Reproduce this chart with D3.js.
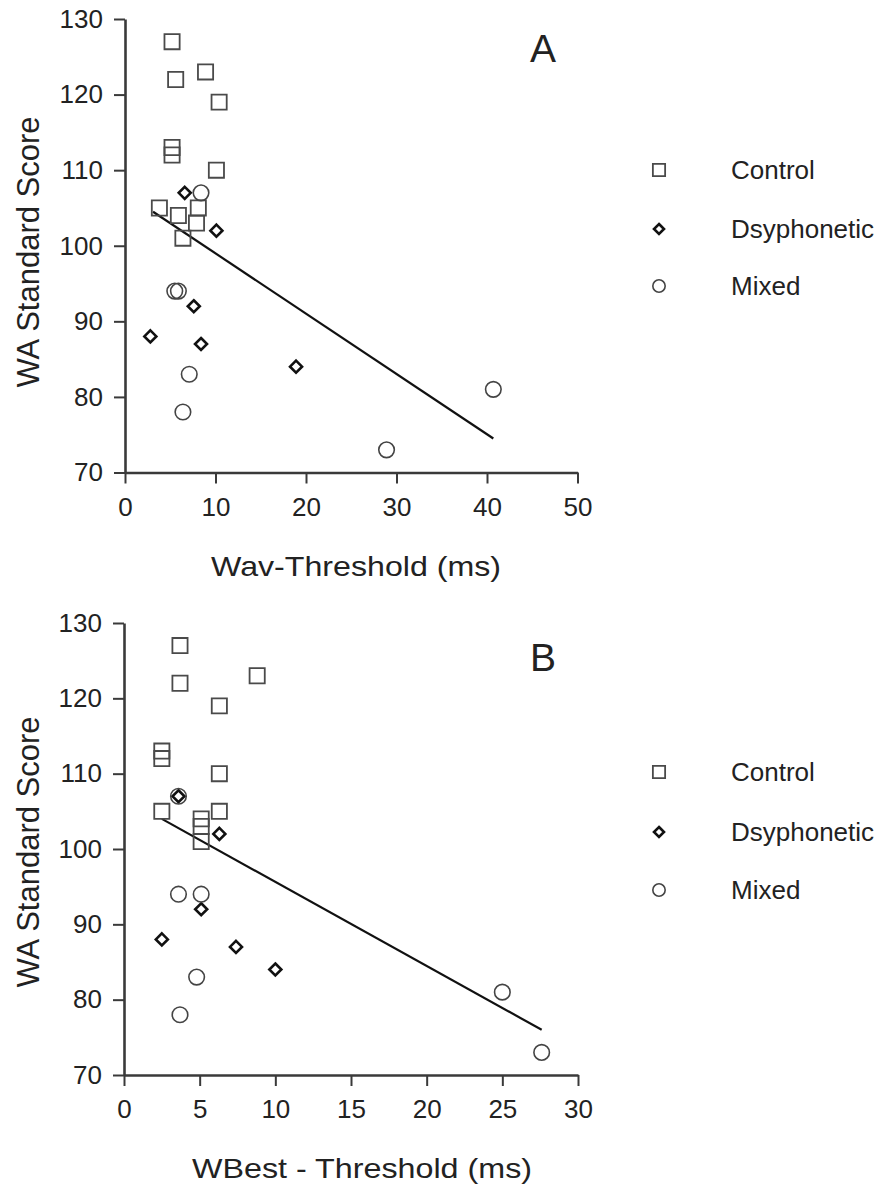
<!DOCTYPE html>
<html>
<head>
<meta charset="utf-8">
<script src="https://cdn.jsdelivr.net/npm/d3@7"></script>
<style>
  html, body { margin: 0; padding: 0; background: #fff; }
  svg { display: block; }
  text { font-family: "Liberation Sans", Arial, Helvetica, sans-serif; fill: #222; }
</style>
</head>
<body>
<svg id="chart" width="892" height="1187"></svg>
<script>
// ---------- Data ----------
const groups = ["Control", "Dsyphonetic", "Mixed"];

// Panel A: Wav-Threshold (ms) vs WA Standard Score
const aControlX = [5.2, 5.6, 8.9, 10.4, 5.2, 5.2, 10.1, 3.8, 5.9, 8.1, 7.9, 6.4];
const aControlY = [127, 122, 123, 119, 113, 112, 110, 105, 104, 105, 103, 101];
const aDysX = [6.6, 10.1, 7.6, 2.8, 8.4, 18.9];
const aDysY = [107, 102, 92, 88, 87, 84];
const aMixX = [8.4, 5.5, 5.9, 7.1, 6.4, 40.7, 28.9];
const aMixY = [107, 94, 94, 83, 78, 81, 73];
const aLineX = [3.1, 40.7];
const aLineY = [104.5, 74.5];
const aXTicks = [0, 10, 20, 30, 40, 50];

// Panel B: WBest - Threshold (ms) vs WA Standard Score
const bControlX = [3.7, 3.7, 8.8, 6.3, 2.5, 2.5, 6.3, 2.5, 6.3, 5.1, 5.1, 5.1];
const bControlY = [127, 122, 123, 119, 113, 112, 110, 105, 105, 104, 103, 101];
const bDysX = [3.6, 6.3, 5.1, 2.5, 7.4, 10.0];
const bDysY = [107, 102, 92, 88, 87, 84];
const bMixX = [3.6, 3.6, 5.1, 4.8, 3.7, 25.0, 27.6];
const bMixY = [107, 94, 94, 83, 78, 81, 73];
const bLineX = [2.5, 27.6];
const bLineY = [104, 76];
const bXTicks = [0, 5, 10, 15, 20, 25, 30];

const yTicks = [70, 80, 90, 100, 110, 120, 130];

// ---------- Drawing ----------
const svg = d3.select("#chart");
const AXIS_COLOR = "#3a3a3a";

// square rotated 45 degrees (equal width and height)
const symbolRhombus = {
  draw(ctx, size) {
    const r = Math.sqrt(size / 2);
    ctx.moveTo(0, -r); ctx.lineTo(r, 0); ctx.lineTo(0, r); ctx.lineTo(-r, 0); ctx.closePath();
  }
};

const symbolStyle = {
  Control:     { type: d3.symbolSquare,  size: 230, stroke: "#4a4a4a", width: 1.8 },
  Dsyphonetic: { type: symbolRhombus,    size: 72,  stroke: "#111",    width: 2.6 },
  Mixed:       { type: d3.symbolCircle,  size: 190, stroke: "#444",    width: 1.6 }
};
const legendSize = { Control: 150, Dsyphonetic: 50, Mixed: 120 };

function panel(cfg) {
  const x = d3.scaleLinear().domain(cfg.xDomain).range(cfg.xRange);
  const y = d3.scaleLinear().domain([70, 130]).range(cfg.yRange);
  const g = svg.append("g");

  const ya = g.append("g")
    .attr("transform", `translate(${cfg.xRange[0]},0)`)
    .call(d3.axisLeft(y).tickValues(yTicks).tickSize(11).tickSizeOuter(0).tickPadding(11));
  const xa = g.append("g")
    .attr("transform", `translate(0,${cfg.yRange[0]})`)
    .call(d3.axisBottom(x).tickValues(cfg.xTicks).tickSize(11).tickSizeOuter(0).tickPadding(14));

  [ya, xa].forEach(a => {
    a.select(".domain").attr("stroke", AXIS_COLOR).attr("stroke-width", 2.6);
    a.selectAll(".tick line").attr("stroke", AXIS_COLOR).attr("stroke-width", 2);
    a.selectAll(".tick text")
      .attr("fill", "#2e2e2e")
      .style("font-size", "26px")
      .style("font-family", '"Liberation Sans", Arial, sans-serif');
  });

  g.append("text")
    .attr("transform", `translate(39,${cfg.yTitleY}) rotate(-90)`)
    .attr("text-anchor", "middle")
    .style("font-size", "31px")
    .text("WA Standard Score");

  g.append("text")
    .attr("x", cfg.xTitleX)
    .attr("y", cfg.xTitleBase)
    .attr("text-anchor", "middle")
    .attr("textLength", cfg.xTitleLen)
    .attr("lengthAdjust", "spacingAndGlyphs")
    .style("font-size", "28px")
    .text(cfg.xTitle);

  g.append("text")
    .attr("x", 543)
    .attr("y", cfg.letterBase)
    .attr("text-anchor", "middle")
    .style("font-size", "39px")
    .attr("fill", "#111")
    .text(cfg.letter);

  g.append("line")
    .attr("x1", x(cfg.lineX[0])).attr("y1", y(cfg.lineY[0]))
    .attr("x2", x(cfg.lineX[1])).attr("y2", y(cfg.lineY[1]))
    .attr("stroke", "#111").attr("stroke-width", 2.2);

  cfg.series.forEach(s => {
    const st = symbolStyle[s.name];
    const pts = s.xs.map((v, i) => ({ x: v, y: s.ys[i] }));
    g.append("g").selectAll("path")
      .data(pts)
      .join("path")
      .attr("d", d3.symbol().type(st.type).size(st.size))
      .attr("transform", d => `translate(${x(d.x)},${y(d.y)})`)
      .attr("fill", "none")
      .attr("stroke", st.stroke)
      .attr("stroke-width", st.width);
  });

  groups.forEach((name, i) => {
    const st = symbolStyle[name];
    const cy = cfg.legendY[i];
    g.append("path")
      .attr("d", d3.symbol().type(st.type).size(legendSize[name]))
      .attr("transform", `translate(659,${cy})`)
      .attr("fill", "none")
      .attr("stroke", st.stroke)
      .attr("stroke-width", st.width);
    g.append("text")
      .attr("x", 731)
      .attr("y", cy + 9)
      .style("font-size", "26px")
      .text(name);
  });
}

panel({
  xDomain: [0, 50], xRange: [125, 577.5], yRange: [472.5, 19],
  xTicks: aXTicks,
  xTitle: "Wav-Threshold (ms)", xTitleX: 356, xTitleBase: 576, xTitleLen: 290,
  yTitleY: 252, letter: "A", letterBase: 62,
  lineX: aLineX, lineY: aLineY,
  series: [
    { name: "Control", xs: aControlX, ys: aControlY },
    { name: "Dsyphonetic", xs: aDysX, ys: aDysY },
    { name: "Mixed", xs: aMixX, ys: aMixY }
  ],
  legendY: [170, 229, 286]
});

panel({
  xDomain: [0, 30], xRange: [124, 578], yRange: [1075, 623],
  xTicks: bXTicks,
  xTitle: "WBest - Threshold (ms)", xTitleX: 362, xTitleBase: 1178, xTitleLen: 340,
  yTitleY: 852, letter: "B", letterBase: 671,
  lineX: bLineX, lineY: bLineY,
  series: [
    { name: "Control", xs: bControlX, ys: bControlY },
    { name: "Dsyphonetic", xs: bDysX, ys: bDysY },
    { name: "Mixed", xs: bMixX, ys: bMixY }
  ],
  legendY: [772, 832, 890]
});
</script>
</body>
</html>
